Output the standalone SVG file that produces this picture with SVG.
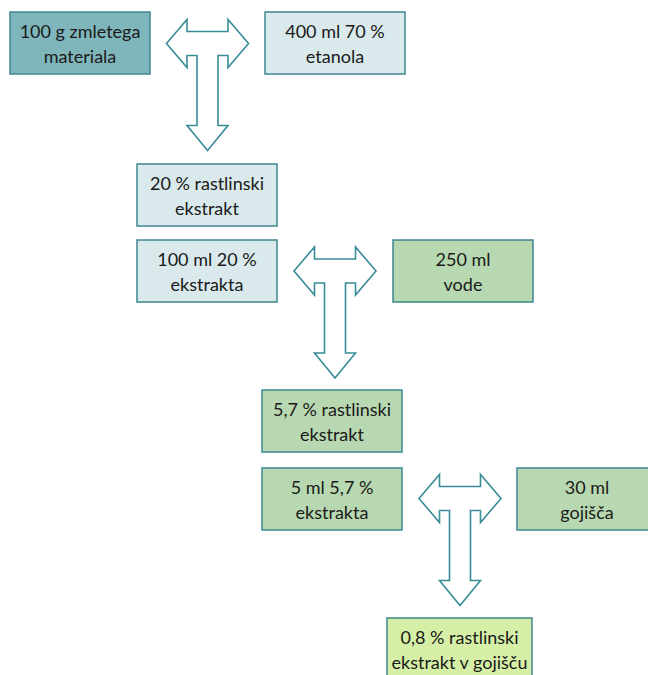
<svg xmlns="http://www.w3.org/2000/svg" xmlns:xlink="http://www.w3.org/1999/xlink" width="648" height="675" viewBox="0 0 648 675">
<style>
.box{stroke:#3f8790;stroke-width:1.5}
.teal{fill:#7fb6bc}
.light{fill:#d9e9ec}
.green{fill:#b8d8b1}
.lime{fill:#d6efa6}
text{font-family:Lato,"Liberation Sans",Arial,sans-serif;font-size:18px;fill:#1a1a1a;text-anchor:middle}
.conn{fill:#ffffff;stroke:#3a8c98;stroke-width:1.6;stroke-linejoin:miter}
</style>
<defs>
<path id="tarrow" d="M-41,0 L-20.5,-24 L-20.5,-12 L20.5,-12 L20.5,-24 L41,0 L20.5,24 L20.5,12 L10.5,12 L10.5,82 L20.5,82 L0,107 L-20.5,82 L-10.5,82 L-10.5,12 L-20.5,12 L-20.5,24 Z"/>
</defs>
<rect width="648" height="675" fill="#ffffff"/>
<g id="connectors">
<use xlink:href="#tarrow" href="#tarrow" class="conn" transform="translate(207.5,43.5)"/>
<use xlink:href="#tarrow" href="#tarrow" class="conn" transform="translate(335,271)"/>
<use xlink:href="#tarrow" href="#tarrow" class="conn" transform="translate(460,498.5)"/>
</g>
<g id="n1"><rect class="box teal" x="10" y="12" width="140" height="62"/><text x="80" y="38">100 g zmletega</text><text x="80" y="63">materiala</text></g>
<g id="n2"><rect class="box light" x="265" y="12" width="140" height="62"/><text x="335" y="38">400 ml 70 %</text><text x="335" y="63">etanola</text></g>
<g id="n3"><rect class="box light" x="137" y="164" width="140" height="62"/><text x="207" y="190">20 % rastlinski</text><text x="207" y="215">ekstrakt</text></g>
<g id="n4"><rect class="box light" x="137" y="240" width="140" height="62"/><text x="207" y="266">100 ml 20 %</text><text x="207" y="291">ekstrakta</text></g>
<g id="n5"><rect class="box green" x="393" y="240" width="140" height="62"/><text x="463" y="266">250 ml</text><text x="463" y="291">vode</text></g>
<g id="n6"><rect class="box green" x="262" y="390" width="140" height="62"/><text x="332" y="416">5,7 % rastlinski</text><text x="332" y="441">ekstrakt</text></g>
<g id="n7"><rect class="box green" x="262" y="468" width="140" height="62"/><text x="332" y="494">5 ml 5,7 %</text><text x="332" y="519">ekstrakta</text></g>
<g id="n8"><rect class="box green" x="517" y="468" width="140" height="62"/><text x="587" y="494">30 ml</text><text x="587" y="519">gojišča</text></g>
<g id="n9"><rect class="box lime" x="387" y="618" width="145" height="70"/><text x="459.5" y="644">0,8 % rastlinski</text><text x="459.5" y="669">ekstrakt v gojišču</text></g>
</svg>
